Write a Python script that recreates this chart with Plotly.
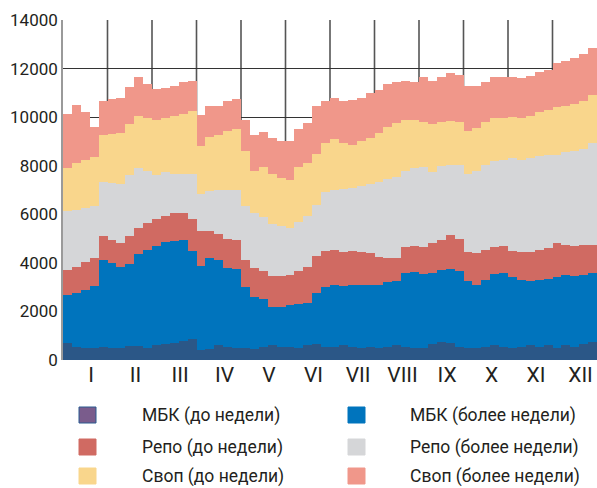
import plotly.graph_objects as go

# Roman month labels
months = ["I", "II", "III", "IV", "V", "VI", "VII", "VIII", "IX", "X", "XI", "XII"]
per_month = 5  # samples per month

series_names = ["МБК (до недели)", "МБК (более недели)", "Репо (до недели)",
                "Репо (более недели)", "Своп (до недели)", "Своп (более недели)"]

mbk_short = [700, 520, 480, 500, 520,  480, 500, 560, 560, 500,  600, 650, 720, 800, 880,
             400, 450, 600, 550, 500,  500, 450, 550, 600, 550,  550, 500, 600, 650, 550,
             550, 600, 550, 500, 550,  500, 550, 600, 550, 500,  500, 650, 750, 700, 550,
             500, 500, 550, 600, 550,  500, 550, 600, 550, 600,  500, 600, 550, 650, 750]
mbk_long = [1990, 2220, 2420, 2550, 3580,  3520, 3320, 3390, 3790, 4050,  4100, 4200, 4180, 4150, 3620,
            3480, 3750, 3500, 3250, 3250,  2500, 2150, 1950, 1600, 1630,  1700, 1800, 1730, 2100, 2450,
            2550, 2450, 2550, 2600, 2550,  2600, 2650, 2650, 3050, 3120,  3050, 2950, 2950, 3050, 3100,
            2750, 2600, 2750, 2950, 3050,  2900, 2750, 2650, 2750, 2750,  2900, 2900, 2900, 2850, 2850]
repo_short = [1030, 1080, 1150, 1170, 1020,  950, 980, 1150, 1100, 1100,  1100, 1100, 1150, 1100, 1300,
              1420, 1120, 1100, 1200, 1200,  1100, 1200, 1150, 1250, 1270,  1250, 1350, 1520, 1550, 1500,
              1450, 1400, 1400, 1350, 1300,  1150, 1000, 950, 1050, 1080,  1100, 1200, 1250, 1400, 1350,
              1200, 1300, 1250, 1100, 1100,  1100, 1150, 1200, 1250, 1250,  1400, 1250, 1250, 1250, 1150]
repo_long = [2400, 2360, 2200, 2130, 2210,  2350, 2450, 2500, 2450, 2150,  1800, 1800, 1600, 1600, 1850,
             1550, 1630, 1800, 2000, 2050,  2250, 2250, 2250, 2150, 2050,  1950, 2050, 2100, 2100, 2400,
             2450, 2600, 2600, 2700, 2850,  3100, 3250, 3350, 3150, 3200,  3300, 2950, 3050, 2900, 3050,
             3200, 3400, 3500, 3550, 3550,  3800, 3800, 3850, 3850, 3850,  3650, 3800, 3900, 3950, 4200]
swap_short = [1800, 1920, 2000, 2000, 1920,  2000, 2100, 2100, 2150, 2150,  2300, 2200, 2400, 2500, 2600,
              1950, 2250, 2250, 2450, 2500,  2250, 1750, 2050, 2050, 2000,  1950, 2250, 2150, 2100, 2050,
              2100, 1900, 1750, 1850, 1900,  2000, 2150, 2200, 2100, 2000,  1850, 1950, 1800, 1800, 1750,
              1800, 1750, 1750, 1750, 1700,  1700, 1700, 1750, 1800, 1850,  1950, 1900, 1950, 1950, 1950]
swap_long = [2230, 2400, 1950, 1250, 1400,  1450, 1450, 1550, 1600, 1400,  1250, 1250, 1250, 1300, 1250,
             1300, 1250, 1200, 1200, 1250,  1300, 1450, 1450, 1500, 1500,  1600, 1550, 1650, 1950, 1700,
             1700, 1700, 1850, 1800, 1850,  1750, 1750, 1700, 1600, 1550,  1850, 1800, 1850, 1950, 1950,
             1850, 1750, 1650, 1700, 1700,  1650, 1650, 1650, 1650, 1650,  1850, 1850, 1900, 1950, 1950]

y_ticks = [0, 2000, 4000, 6000, 8000, 10000, 12000, 14000]
y_tick_labels = ["0", "2000", "4000", "6000", "8000", "10000", "12000", "14000"]

series_values = [mbk_short, mbk_long, repo_short, repo_long, swap_short, swap_long]
bar_colors = ["#2b5787", "#0074bd", "#d06a62", "#d5d6d8", "#f9d68c", "#f0978a"]
legend_colors = ["#7a5c8c", "#0074bd", "#d06a62", "#d5d6d8", "#f9d68c", "#f0978a"]
legend_borders = ["#2a5a90", "#0074bd", "#d06a62", "#d5d6d8", "#f9d68c", "#f0978a"]

n = len(mbk_short)
xs = list(range(n))

FONT = "Roboto, Liberation Sans, Arial, sans-serif"
TXT = "#231f20"

fig = go.Figure()
for name, vals, col in zip(series_names, series_values, bar_colors):
    fig.add_trace(go.Bar(x=xs, y=vals, name=name, marker=dict(color=col, line=dict(width=0)),
                         showlegend=False))

shapes = []
# month separator grid lines
for m in range(1, len(months)):
    xv = m * per_month - 0.5
    shapes.append(dict(type="line", xref="x", yref="paper", x0=xv, x1=xv, y0=0, y1=1,
                       line=dict(color="#555555", width=1.6), layer="below"))

# manual legend (two columns, three rows); positions given in page pixels
W, H = 534.0, 340.0
def px_x(p):
    return (p - 63) / W
def px_y(p):
    return (360 - p) / H

annotations = []
row_y = [415, 447, 476]
col_sq = [79, 348]
col_tx = [140, 408]
for i, name in enumerate(series_names):
    col = i % 2
    row = i // 2
    cy = row_y[row]
    shapes.append(dict(type="rect", xref="paper", yref="paper",
                       x0=px_x(col_sq[col]), x1=px_x(col_sq[col] + 17),
                       y0=px_y(cy + 8), y1=px_y(cy - 8),
                       fillcolor=legend_colors[i], line=dict(color=legend_borders[i], width=1)))
    annotations.append(dict(xref="paper", yref="paper", x=px_x(col_tx[col]), y=px_y(cy),
                            text=name, showarrow=False, xanchor="left", yanchor="middle",
                            font=dict(family=FONT, size=17.5, color=TXT)))

tickvals = [m * per_month - 0.5 + 0.63 * per_month for m in range(len(months))]

fig.update_layout(
    width=597, height=488,
    margin=dict(l=63, r=0, t=20, b=128),
    paper_bgcolor="white", plot_bgcolor="white",
    barmode="stack", bargap=0,
    shapes=shapes, annotations=annotations,
    font=dict(family=FONT, color=TXT),
    xaxis=dict(range=[-0.5, n - 0.5], tickvals=tickvals, ticktext=months,
               showgrid=False, zeroline=False, showline=False, ticks="", automargin=False,
               tickfont=dict(family=FONT, size=21, color=TXT)),
    yaxis=dict(range=[0, 14000], tickvals=y_ticks, ticktext=y_tick_labels,
               showgrid=True, gridcolor="#333333", automargin=False,
               gridwidth=1.3, zeroline=False, showline=True, linecolor="#9a9a9a", linewidth=1.5,
               ticks="", tickfont=dict(family=FONT, size=17, color=TXT)),
)

# remove the browser's default page margin so the figure fills the window exactly
fig.write_html("out.html", config={"displayModeBar": False},
               post_script="document.body.style.margin='0';document.body.style.overflow='hidden';")
